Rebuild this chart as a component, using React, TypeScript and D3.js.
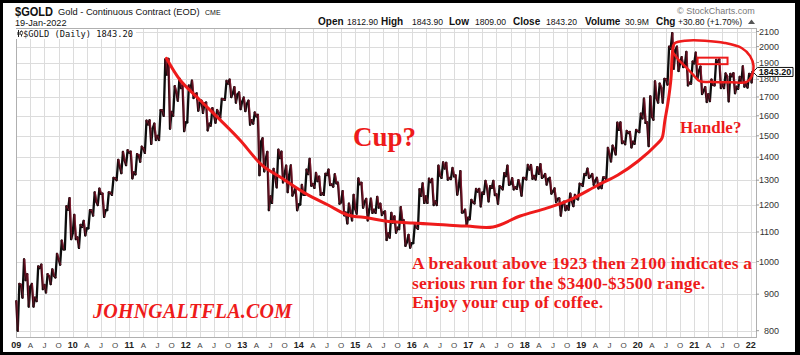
import React, { useEffect } from "react";
import * as d3 from "d3";

// ---------- DATA (monthly OHLC of $GOLD, Jan 2009 .. Jan 2022) ----------
const START_YEAR = 2009;
const START_OPEN = 880;
const END_TIME = 2022 + 18 / 365;

const closes = [
  928, 942, 922, 890, 979, 927, 954, 955, 1008, 1040, 1182, 1096,
  1081, 1118, 1113, 1179, 1213, 1244, 1180, 1248, 1308, 1358, 1386, 1421,
  1333, 1409, 1439, 1556, 1536, 1500, 1628, 1828, 1620, 1725, 1750, 1566,
  1740, 1711, 1669, 1664, 1560, 1604, 1615, 1687, 1775, 1719, 1714, 1675,
  1663, 1578, 1597, 1472, 1392, 1234, 1312, 1396, 1327, 1323, 1250, 1202,
  1240, 1326, 1284, 1296, 1246, 1322, 1282, 1287, 1210, 1171, 1175, 1184,
  1283, 1212, 1183, 1182, 1190, 1172, 1095, 1134, 1115, 1142, 1065, 1061,
  1116, 1236, 1234, 1292, 1214, 1320, 1350, 1309, 1316, 1273, 1173, 1152,
  1211, 1253, 1249, 1268, 1268, 1242, 1270, 1317, 1284, 1271, 1275, 1309,
  1345, 1318, 1327, 1315, 1305, 1253, 1224, 1206, 1196, 1215, 1226, 1283,
  1322, 1316, 1298, 1285, 1311, 1413, 1437, 1529, 1472, 1514, 1472, 1523,
  1587, 1566, 1596, 1694, 1751, 1800, 1986, 1978, 1895, 1879, 1780, 1895,
  1850, 1734, 1716, 1768, 1905, 1771, 1817, 1818, 1757, 1784, 1776, 1829,
  1843,
];
const highs = [
  930, 1007, 960, 930, 984, 990, 960, 975, 1025, 1070, 1195, 1227,
  1162, 1125, 1140, 1180, 1250, 1265, 1245, 1250, 1310, 1388, 1424, 1432,
  1425, 1414, 1448, 1575, 1577, 1560, 1630, 1920, 1923, 1760, 1803, 1765,
  1764, 1792, 1720, 1680, 1670, 1640, 1630, 1690, 1790, 1798, 1755, 1725,
  1697, 1680, 1617, 1605, 1488, 1424, 1348, 1434, 1425, 1362, 1363, 1268,
  1280, 1345, 1392, 1331, 1315, 1327, 1345, 1325, 1290, 1255, 1205, 1240,
  1307, 1289, 1224, 1225, 1232, 1205, 1175, 1170, 1157, 1192, 1142, 1090,
  1128, 1263, 1287, 1306, 1305, 1362, 1377, 1375, 1352, 1320, 1338, 1182,
  1220, 1264, 1264, 1297, 1275, 1297, 1275, 1330, 1362, 1308, 1300, 1310,
  1366, 1365, 1356, 1369, 1326, 1310, 1266, 1226, 1213, 1245, 1240, 1285,
  1326, 1349, 1326, 1310, 1312, 1443, 1453, 1565, 1566, 1524, 1519, 1529,
  1611, 1691, 1704, 1788, 1775, 1802, 2000, 2089, 2000, 1933, 1966, 1906,
  1962, 1875, 1755, 1798, 1916, 1919, 1834, 1831, 1836, 1814, 1877, 1831,
  1844,
];
const lows = [
  800, 890, 865, 865, 880, 915, 905, 930, 950, 990, 1040, 1075,
  1075, 1045, 1088, 1113, 1160, 1200, 1155, 1180, 1240, 1300, 1330, 1365,
  1308, 1325, 1380, 1420, 1462, 1480, 1480, 1600, 1535, 1600, 1680, 1523,
  1566, 1695, 1627, 1615, 1527, 1550, 1565, 1590, 1685, 1700, 1670, 1635,
  1625, 1555, 1560, 1321, 1338, 1180, 1208, 1270, 1291, 1251, 1237, 1180,
  1202, 1240, 1277, 1268, 1240, 1240, 1280, 1273, 1205, 1161, 1131, 1142,
  1167, 1190, 1142, 1170, 1170, 1162, 1072, 1080, 1098, 1110, 1052, 1046,
  1061, 1111, 1208, 1208, 1200, 1200, 1310, 1302, 1305, 1241, 1171, 1123,
  1146, 1206, 1195, 1244, 1214, 1239, 1205, 1262, 1281, 1262, 1264, 1237,
  1303, 1306, 1303, 1310, 1282, 1245, 1211, 1160, 1180, 1182, 1196, 1222,
  1276, 1310, 1281, 1266, 1267, 1303, 1381, 1413, 1465, 1460, 1445, 1462,
  1518, 1564, 1451, 1580, 1670, 1670, 1770, 1863, 1849, 1873, 1765, 1775,
  1802, 1717, 1673, 1678, 1765, 1750, 1750, 1677, 1721, 1746, 1758, 1753,
  1782,
];

const priceTicks = [800, 900, 1000, 1100, 1200, 1300, 1400, 1500, 1600, 1700, 1800, 1900, 2000, 2100];
const yearLabels = ["09", "10", "11", "12", "13", "14", "15", "16", "17", "18", "19", "20", "21", "22"];
const quarterLabels = ["", "A", "J", "O"];
const lastClose = 1843.2;

// hand-drawn annotation, as [decimal year, price]
const cupCurve: [number, number][] = [
  [2011.66, 1926], [2011.9, 1796], [2012.25, 1684], [2012.61, 1579], [2012.96, 1480],
  [2013.35, 1365], [2013.7, 1309], [2014.11, 1247], [2014.52, 1200], [2014.87, 1162],
  [2015.23, 1151], [2015.53, 1140], [2016.02, 1132], [2016.62, 1125], [2016.98, 1121],
  [2017.44, 1118], [2017.92, 1158], [2018.39, 1188], [2018.8, 1220], [2019.3, 1280],
  [2019.65, 1322], [2020.01, 1383], [2020.36, 1466], [2020.43, 1489], [2020.48, 1574],
  [2020.54, 1678], [2020.59, 1808], [2020.61, 1947], [2020.63, 2004],
];
const handleLoop: [number, number][] = [
  [2020.63, 2004], [2020.66, 2024], [2020.84, 2039], [2021.19, 2039], [2021.54, 2024],
  [2021.84, 1991], [2021.99, 1940], [2022.05, 1879], [2022.02, 1819], [2021.93, 1785],
  [2021.66, 1783], [2021.31, 1785], [2021.1, 1789], [2020.98, 1827], [2020.84, 1877],
  [2020.72, 1918], [2020.63, 1960],
];
const flagBox: [number, number][] = [[2021.06, 1930], [2021.59, 1890]];

const SANS = "'Liberation Sans', Arial, sans-serif";
const SERIF = "'Liberation Serif', 'Times New Roman', serif";
const RED = "#ee1b1b";

export default function App() {
  useEffect(() => {
    document.body.style.margin = "0";
  }, []);

  const left = 16, right = 756, top = 28, bottom = 337;
  const x = d3.scaleLinear().domain([2009, 2022]).range([16.2, 750.7]);
  const y = d3.scaleLog().domain([800, 2100]).range([330.7, 31.5]);

  // price segments
  const segs: { x1: number; y1: number; x2: number; y2: number; down: boolean }[] = [];
  let open = START_OPEN;
  closes.forEach((c, i) => {
    const t0 = START_YEAR + i / 12;
    const t1 = Math.min(START_YEAR + (i + 1) / 12, END_TIME);
    const up = c >= open;
    const pts: [number, number][] = [
      [t0, open],
      [t0 + (t1 - t0) * 0.33, up ? lows[i] : highs[i]],
      [t0 + (t1 - t0) * 0.67, up ? highs[i] : lows[i]],
      [t1, c],
    ];
    for (let k = 0; k < 3; k++) {
      segs.push({
        x1: x(pts[k][0]), y1: y(pts[k][1]), x2: x(pts[k + 1][0]), y2: y(pts[k + 1][1]),
        down: pts[k + 1][1] < pts[k][1],
      });
    }
    open = c;
  });

  const quarters: { t: number; q: number; yi: number }[] = [];
  yearLabels.forEach((_, yi) => {
    for (let q = 0; q < 4; q++) {
      const t = 2009 + yi + q / 4;
      if (t <= 2022.01) quarters.push({ t, q, yi });
    }
  });

  const curveGen = d3
    .line<[number, number]>()
    .x((d) => x(d[0]))
    .y((d) => y(d[1]))
    .curve(d3.curveCatmullRom.alpha(0.5));

  const lastY = y(lastClose);

  return (
    <svg width={800} height={355} style={{ display: "block", position: "absolute", left: 0, top: 0, background: "#fff" }}>
      {/* header */}
      <text x={15} y={16} fontFamily={SANS} fontWeight="bold" fontSize={12.5} textLength={38} lengthAdjust="spacingAndGlyphs" fill="#111">$GOLD</text>
      <text x={58} y={14.5} fontFamily={SANS} fontSize={9.3} fill="#111">Gold - Continuous Contract (EOD)</text>
      <text x={205} y={14.5} fontFamily={SANS} fontSize={7} fill="#111">CME</text>
      <text x={15} y={25.5} fontFamily={SANS} fontSize={9.2} fill="#111">19-Jan-2022</text>
      <text x={677} y={14} fontFamily={SANS} fontSize={9} fill="#777">© StockCharts.com</text>
      <g fontFamily={SANS} fill="#111">
        <text x={318} y={25} fontSize={10} fontWeight="bold">Open</text>
        <text x={347} y={25} fontSize={8.6}>1812.90</text>
        <text x={381} y={25} fontSize={10} fontWeight="bold">High</text>
        <text x={412} y={25} fontSize={8.6}>1843.90</text>
        <text x={449} y={25} fontSize={10} fontWeight="bold">Low</text>
        <text x={475} y={25} fontSize={8.6}>1809.00</text>
        <text x={513} y={25} fontSize={10} fontWeight="bold">Close</text>
        <text x={546} y={25} fontSize={8.6}>1843.20</text>
        <text x={585} y={25} fontSize={10} fontWeight="bold">Volume</text>
        <text x={625} y={25} fontSize={8.6}>30.9M</text>
        <text x={656} y={25} fontSize={10} fontWeight="bold">Chg</text>
        <text x={678} y={25} fontSize={8.6}>+30.80 (+1.70%)</text>
        <path d="M748,24 L751.5,19.5 L755,24 Z" fill="#555" />
      </g>

      {/* grid */}
      <g stroke="#dcdcdc" strokeWidth={1} shapeRendering="crispEdges">
        {priceTicks.map((p) => (
          <line key={"h" + p} x1={left} x2={right} y1={Math.round(y(p)) + 0.5} y2={Math.round(y(p)) + 0.5} />
        ))}
        {quarters.map((d) => (
          <line key={"v" + d.t} x1={Math.round(x(d.t)) + 0.5} x2={Math.round(x(d.t)) + 0.5} y1={top} y2={bottom} />
        ))}
      </g>
      <rect x={left + 0.5} y={top + 0.5} width={right - left} height={bottom - top} fill="none" stroke="#b0b0b0" shapeRendering="crispEdges" />

      {/* right axis */}
      <g fontFamily={SANS} fontSize={9} fill="#333" textAnchor="end">
        {priceTicks.map((p) => (
          <g key={"t" + p}>
            <line x1={right} x2={right + 3} y1={y(p)} y2={y(p)} stroke="#999" />
            <text x={779} y={y(p) + 3.2}>{p}</text>
          </g>
        ))}
      </g>

      {/* bottom axis */}
      <g fontFamily={SANS} fill="#222" textAnchor="middle">
        {quarters.map((d) =>
          d.q === 0 ? (
            <text key={"xl" + d.t} x={x(d.t)} y={348} fontSize={9} fontWeight="bold">{yearLabels[d.yi]}</text>
          ) : (
            <text key={"xl" + d.t} x={x(d.t)} y={348} fontSize={8} fill="#444">{quarterLabels[d.q]}</text>
          )
        )}
      </g>

      {/* chart label */}
      <rect x={16} y={29} width={120} height={10} fill="#fff" />
      <g>
        <line x1={18.5} x2={18.5} y1={30} y2={37} stroke="#222" />
        <rect x={17.5} y={32} width={2} height={3} fill="#222" />
        <line x1={21.5} x2={21.5} y1={30.5} y2={36.5} stroke="#222" />
        <rect x={20.5} y={31.5} width={2} height={3} fill="#fff" stroke="#222" strokeWidth={0.6} />
      </g>
      <text x={23} y={36.5} fontFamily="'DejaVu Sans Mono', 'Liberation Mono', monospace" fontSize={8.7} fill="#111" textLength={110} lengthAdjust="spacingAndGlyphs">$GOLD (Daily) 1843.20</text>

      {/* price series */}
      <g strokeWidth={2.3} strokeLinecap="round">
        {segs.map((s, i) => (
          <line key={"s" + i} x1={s.x1} y1={s.y1} x2={s.x2} y2={s.y2} stroke={s.down ? "#3d0a14" : "#0d0d0d"} />
        ))}
      </g>
      <g strokeWidth={0.8} strokeLinecap="round" opacity={0.8}>
        {segs.map((s, i) =>
          s.down ? <line key={"r" + i} x1={s.x1 + 0.6} y1={s.y1} x2={s.x2 + 0.6} y2={s.y2} stroke="#a0203a" /> : null
        )}
      </g>

      {/* last price marker */}
      <g>
        <path d={`M753,${lastY} L757.5,${lastY - 4.5} L793,${lastY - 4.5} L793,${lastY + 4.5} L757.5,${lastY + 4.5} Z`} fill="#fff" stroke="#111" strokeWidth={1} />
        <text x={775} y={lastY + 3.3} textAnchor="middle" fontFamily={SANS} fontSize={9} fontWeight="bold" fill="#111">1843.20</text>
      </g>

      {/* annotations */}
      <path d={curveGen(cupCurve) || ""} fill="none" stroke={RED} strokeWidth={3} strokeLinejoin="round" strokeLinecap="round" />
      <path d={curveGen(handleLoop) || ""} fill="none" stroke={RED} strokeWidth={2.5} strokeLinejoin="round" strokeLinecap="round" />
      <rect
        x={x(flagBox[0][0])}
        y={y(flagBox[0][1])}
        width={x(flagBox[1][0]) - x(flagBox[0][0])}
        height={y(flagBox[1][1]) - y(flagBox[0][1])}
        fill="none"
        stroke={RED}
        strokeWidth={2}
      />
      <g fontFamily={SERIF} fontWeight="bold" fill={RED}>
        <text x={353} y={146} fontSize={27}>Cup?</text>
        <text x={680} y={133} fontSize={17}>Handle?</text>
        <text x={412} y={269} fontSize={17.5} textLength={340} lengthAdjust="spacing">A breakout above 1923 then 2100 indicates a</text>
        <text x={412} y={289} fontSize={17.5} textLength={293} lengthAdjust="spacing">serious run for the $3400-$3500 range.</text>
        <text x={412} y={308} fontSize={17.5} textLength={191} lengthAdjust="spacing">Enjoy your cup of coffee.</text>
        <text x={93} y={318} fontSize={20} fontStyle="italic" textLength={199} lengthAdjust="spacing">JOHNGALTFLA.COM</text>
      </g>

      {/* outer frame */}
      <rect x={0} y={0} width={800} height={3} fill="#000" />
      <rect x={0} y={352} width={800} height={3} fill="#000" />
      <rect x={0} y={0} width={3} height={355} fill="#000" />
      <rect x={795} y={0} width={5} height={355} fill="#000" />
    </svg>
  );
}
